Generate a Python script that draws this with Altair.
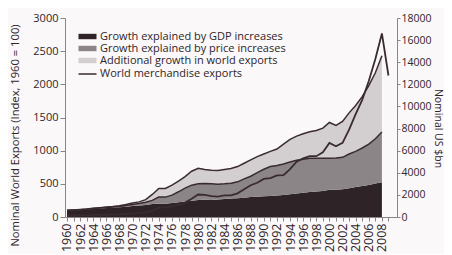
import altair as alt
import pandas as pd

# ---- data ----
years = list(range(1960, 2009))
gdp_top = [100, 104, 109, 115, 122, 128, 134, 139, 147, 156,
           165, 172, 182, 195, 200, 200, 212, 222, 234, 246,
           256, 260, 258, 263, 272, 278, 284, 291, 300, 307,
           313, 318, 325, 331, 342, 354, 364, 376, 383, 393,
           410, 411, 420, 433, 452, 467, 484, 505, 525]
price_top = [100, 105, 111, 118, 127, 135, 144, 150, 160, 174,
             190, 202, 222, 250, 300, 300, 330, 380, 435, 480,
             500, 505, 500, 495, 500, 510, 530, 575, 615, 670,
             720, 760, 775, 800, 830, 855, 870, 885, 885, 885,
             885, 890, 900, 950, 990, 1040, 1100, 1180, 1280]
total_top = [100, 106, 113, 121, 132, 141, 151, 159, 171, 189,
             210, 228, 262, 340, 430, 430, 480, 540, 610, 690,
             735, 715, 705, 700, 715, 730, 760, 810, 860, 910,
             950, 990, 1025, 1100, 1170, 1220, 1255, 1285, 1305, 1340,
             1425, 1380, 1440, 1570, 1680, 1815, 1980, 2175, 2430]
export_years = list(range(1960, 2010))
world_exports = [130, 134, 141, 154, 172, 186, 204, 214, 239, 273,
                 317, 352, 417, 579, 840, 877, 991, 1128, 1307, 1659,
                 2036, 2009, 1883, 1846, 1956, 1954, 2138, 2515, 2869, 3098,
                 3449, 3515, 3766, 3782, 4326, 5000, 5300, 5500, 5500, 5850,
                 6700, 6400, 6700, 7900, 9300, 10600, 12300, 14300, 16600, 12800]

series_names = ["Growth explained by GDP increases",
                "Growth explained by price increases",
                "Additional growth in world exports"]
line_name = "World merchandise exports"
x_ticks = list(range(1960, 2010))
left_ticks = [0, 500, 1000, 1500, 2000, 2500, 3000]
right_ticks = [0, 2000, 4000, 6000, 8000, 10000, 12000, 14000, 16000, 18000]

# ---- tables ----
rows = []
for i, yr in enumerate(years):
    rows.append(dict(year=yr, series=series_names[0], lo=0, hi=gdp_top[i]))
    rows.append(dict(year=yr, series=series_names[1], lo=gdp_top[i], hi=price_top[i]))
    rows.append(dict(year=yr, series=series_names[2], lo=price_top[i], hi=total_top[i]))
areas_df = pd.DataFrame(rows)

orows = []
for i, yr in enumerate(years):
    orows.append(dict(year=yr, level="mid", hi=price_top[i]))
    orows.append(dict(year=yr, level="top", hi=total_top[i]))
outline_df = pd.DataFrame(orows)

line_df = pd.DataFrame(dict(year=export_years, exports=world_exports,
                            name=[line_name] * len(export_years)))

FONT = "Open Sans"
TXT = "#2e2529"
AX = "#8a8487"
INK = "#3a2b32"

x_enc = alt.X("year:Q",
              scale=alt.Scale(domain=[1959.7, 2010.3], nice=False, zero=False),
              axis=alt.Axis(values=x_ticks, title=None, grid=False,
                            labelExpr="datum.value % 2 == 0 ? toString(datum.value) : ''",
                            labelAngle=270, labelAlign="right", labelBaseline="middle",
                            labelFontSize=12.5, labelOverlap=False, labelFlush=False,
                            labelPadding=2, tickSize=4, tickColor=AX, domainColor=AX,
                            labelColor=TXT, labelFont=FONT))

left_axis = alt.Axis(values=left_ticks, format="d", grid=False,
                     title="Nominal World Exports (Index, 1960 = 100)",
                     titleAngle=270, titleX=-50, titleY=117, titleAlign="center",
                     titleBaseline="middle", titleFontSize=11.2, titleFontWeight="normal",
                     titleColor=TXT, titleFont=FONT,
                     labelFontSize=11, labelColor=TXT, labelFont=FONT, labelPadding=2,
                     tickSize=5, tickColor=AX, domainColor=AX)

left_scale = alt.Scale(domain=[0, 3000], nice=False)

areas = alt.Chart(areas_df).mark_area(opacity=1, interpolate="linear").encode(
    x=x_enc,
    y=alt.Y("hi:Q", stack=None, scale=left_scale, axis=left_axis),
    y2="lo:Q",
    fill=alt.Fill("series:N",
                  scale=alt.Scale(domain=series_names,
                                  range=["#2e2428", "#8b8588", "#d3cfd1"]),
                  legend=alt.Legend(title=None, orient="none", legendX=17, legendY=13,
                                    padding=0, offset=0,
                                    symbolType="M-2,-0.6H2V0.6H-2Z", symbolSize=81,
                                    symbolStrokeWidth=0, labelOffset=7, rowPadding=0,
                                    labelFontSize=11, labelFont=FONT, labelColor=TXT,
                                    labelLimit=300)),
    order=alt.Order("series:N"),
)

outlines = alt.Chart(outline_df).mark_line(strokeWidth=1.5, color=INK).encode(
    x=x_enc,
    y=alt.Y("hi:Q", scale=left_scale, axis=left_axis),
    detail="level:N",
)

left = alt.layer(areas, outlines)

world = alt.Chart(line_df).mark_line(strokeWidth=1.8).encode(
    x=x_enc,
    y=alt.Y("exports:Q", scale=alt.Scale(domain=[0, 18000], nice=False),
            axis=alt.Axis(orient="right", values=right_ticks, format="d", grid=False,
                          title="Nominal US $bn", titleAngle=90, titleX=40, titleY=110,
                          titleAlign="center", titleBaseline="middle",
                          titleFontSize=10.5, titleFontWeight="normal", titleColor=TXT,
                          titleFont=FONT, labelFontSize=10.5, labelColor=TXT,
                          labelFont=FONT, labelPadding=1, tickSize=3, tickColor=AX,
                          domainColor=AX)),
    stroke=alt.Stroke("name:N", scale=alt.Scale(domain=[line_name], range=[INK]),
                      legend=alt.Legend(title=None, orient="none", legendX=17, legendY=50.5,
                                        padding=0, offset=0,
                                        symbolType="M-2,0H2", symbolSize=81,
                                        symbolStrokeWidth=1.5, labelOffset=7,
                                        labelFontSize=11, labelFont=FONT, labelColor=TXT,
                                        labelLimit=300)),
)

chart = alt.layer(left, world).resolve_scale(y="independent").properties(
    width=332, height=199,
    padding={"left": 57, "top": 10, "right": 47, "bottom": 37},
    autosize=alt.AutoSizeParams(type="none"),
    background="#fbf8f9",
).configure_view(stroke=None).configure_axis(labelFont=FONT, titleFont=FONT)

chart.save("out.html", embed_options={"renderer": "svg", "actions": False})
